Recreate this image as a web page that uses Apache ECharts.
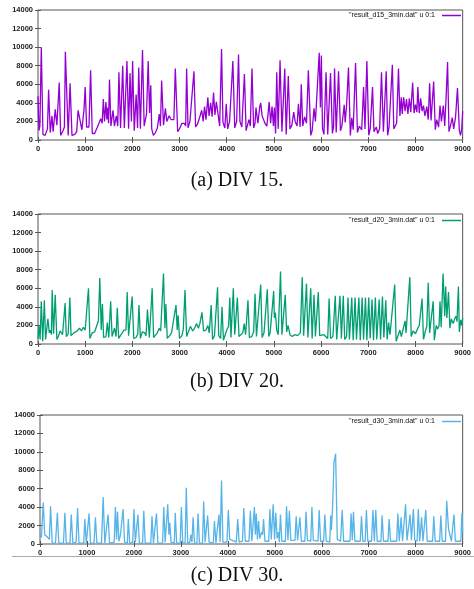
<!DOCTYPE html>
<html>
<head>
<meta charset="utf-8">
<script src="https://cdn.jsdelivr.net/npm/echarts@6/dist/echarts.min.js"></script>
<style>
html,body{margin:0;padding:0;background:#fff;}
#chart{width:474px;height:589px;}
</style>
</head>
<body>
<div id="chart"></div>
<script>
// ---- Data (x = sample index, y = value) ----
const xTicks = ['0','1000','2000','3000','4000','5000','6000','7000','8000','9000'];
const yTicks = ['0','2000','4000','6000','8000','10000','12000','14000'];
const seriesNames = ['"result_d15_3min.dat" u 0:1', '"result_d20_3min.dat" u 0:1', '"result_d30_3min.dat" u 0:1'];
const captions = ['(a) DIV 15.', '(b) DIV 20.', '(c) DIV 30.'];

const div15 = [[0,4700],[20,1000],[40,1500],[70,10000],[105,600],[150,500],[200,1200],[225,5400],[260,800],[295,2600],[320,900],[365,3300],[400,1600],[450,6200],[480,500],[530,1000],[560,1400],[580,9500],[640,500],[680,6100],[720,500],[780,600],[820,900],[850,3200],[880,2400],[900,2500],[930,1100],[975,3300],[1000,5700],[1030,1400],[1080,1400],[1115,7500],[1150,700],[1200,700],[1250,1300],[1290,1500],[1330,2300],[1360,1800],[1385,4400],[1410,2000],[1440,4100],[1460,2200],[1480,3500],[1495,1800],[1515,6500],[1545,1500],[1590,3200],[1620,1500],[1660,2600],[1690,1500],[1715,7300],[1750,1300],[1795,8000],[1830,1300],[1885,8500],[1920,1200],[1950,7200],[1980,2000],[2005,8500],[2040,1000],[2080,4900],[2110,1300],[2135,7800],[2170,1200],[2215,9700],[2250,1500],[2300,2800],[2335,8500],[2365,2900],[2390,5900],[2410,1200],[2445,500],[2490,800],[2530,1300],[2570,2800],[2595,1500],[2620,6400],[2660,1600],[2700,3400],[2730,2000],[2780,2600],[2820,2200],[2860,2400],[2880,2200],[2910,7700],[2960,900],[3000,1200],[3050,1800],[3100,1800],[3130,1500],[3150,7700],[3180,1300],[3220,2000],[3260,1900],[3305,7400],[3340,1400],[3380,1700],[3430,2500],[3470,3200],[3500,2000],[3530,3600],[3560,2200],[3600,4600],[3625,2600],[3660,4000],[3690,2500],[3720,5100],[3750,2700],[3780,4100],[3810,3000],[3850,1500],[3890,9800],[3920,1900],[3960,1300],[3990,3900],[4020,1200],[4060,2000],[4130,8500],[4170,1300],[4210,2000],[4250,9200],[4280,2000],[4320,1400],[4375,7100],[4410,1000],[4440,900],[4470,2200],[4500,1500],[4535,7700],[4570,1300],[4600,1800],[4620,3500],[4660,1800],[4700,3600],[4720,4000],[4750,2600],[4780,2800],[4810,1800],[4850,1500],[4880,1700],[4900,4100],[4930,1800],[4960,3600],[4990,1500],[5010,3500],[5035,700],[5060,7300],[5090,1200],[5130,8600],[5170,900],[5230,7700],[5260,600],[5305,6900],[5340,1200],[5380,1600],[5420,3000],[5450,2000],[5490,1500],[5520,3900],[5555,1400],[5580,6000],[5610,1500],[5650,2500],[5690,1800],[5730,7500],[5780,500],[5810,1000],[5850,3400],[5880,2000],[5960,9400],[5985,3500],[6005,9100],[6030,1200],[6060,600],[6105,7300],[6140,600],[6200,7200],[6240,700],[6265,1500],[6285,7700],[6320,800],[6370,7400],[6410,1000],[6440,1500],[6490,3800],[6510,1900],[6540,3700],[6580,7800],[6620,500],[6650,2400],[6680,1100],[6730,8300],[6770,800],[6810,1500],[6860,1100],[6900,5700],[6930,1200],[6970,8500],[7010,500],[7040,1200],[7090,5700],[7120,900],[7170,1400],[7200,700],[7240,1200],[7280,7300],[7320,900],[7350,1000],[7380,7400],[7410,500],[7440,1400],[7470,1600],[7510,8100],[7540,1200],[7580,1000],[7600,1800],[7640,7700],[7670,2600],[7700,4600],[7720,2800],[7750,4600],[7780,3100],[7810,4400],[7840,2800],[7870,4500],[7900,3000],[7940,6200],[7970,2900],[8000,3800],[8030,3000],[8050,5700],[8080,2900],[8110,4500],[8140,3100],[8170,3700],[8200,2600],[8240,3600],[8270,2200],[8300,6100],[8330,2100],[8385,6300],[8420,1100],[8450,2200],[8490,1400],[8520,3700],[8550,2000],[8590,3700],[8620,1500],[8650,4700],[8680,8400],[8710,900],[8740,1500],[8780,2400],[8810,1200],[8850,2500],[8890,5600],[8930,1000],[8955,500],[8980,1200],[9000,3100]];

const div20 = [[0,600],[20,2000],[45,500],[70,4600],[100,300],[135,4700],[160,500],[210,2700],[240,1200],[260,1500],[285,1000],[300,5800],[330,1100],[365,5300],[400,500],[430,800],[470,1400],[520,1000],[555,900],[575,4400],[600,800],[640,1100],[675,5000],[700,900],[760,1200],[830,1400],[880,1700],[920,1400],[960,1800],[1000,1500],[1040,1600],[1070,6000],[1100,600],[1150,1200],[1200,1300],[1240,1500],[1280,2500],[1310,7100],[1340,1500],[1365,4300],[1390,700],[1440,800],[1470,2300],[1500,700],[1540,4600],[1570,800],[1620,1700],[1655,800],[1680,3900],[1710,600],[1760,1000],[1820,1500],[1865,1500],[1890,5600],[1920,900],[1960,1000],[1995,5100],[2030,600],[2080,700],[2115,1100],[2140,4200],[2170,600],[2210,1300],[2260,1200],[2290,900],[2320,3700],[2360,700],[2420,6000],[2450,700],[2490,800],[2530,1200],[2570,1700],[2600,1400],[2660,7600],[2690,1700],[2710,4300],[2740,600],[2790,900],[2830,1200],[2860,1100],[2925,4200],[2950,1500],[2970,3100],[3000,600],[3050,900],[3080,1600],[3115,5800],[3150,800],[3190,1000],[3230,1900],[3280,1400],[3320,1700],[3360,2200],[3400,1700],[3430,2200],[3475,3400],[3510,1400],[3560,1500],[3600,2000],[3630,1200],[3670,4200],[3700,500],[3740,900],[3805,6100],[3830,900],[3870,600],[3900,4000],[3930,400],[3970,600],[4000,1500],[4040,1900],[4065,5000],[4090,700],[4140,6000],[4170,1000],[4225,5000],[4260,800],[4300,600],[4340,1200],[4370,2200],[4400,1000],[4450,4700],[4480,700],[4530,800],[4570,1300],[4600,5400],[4630,800],[4660,900],[4720,6400],[4750,700],[4790,1200],[4860,5900],[4890,800],[4920,1200],[4960,1200],[4995,5700],[5010,2800],[5030,3400],[5060,1500],[5090,1000],[5140,7800],[5170,1000],[5210,900],[5240,5300],[5270,1300],[5300,2000],[5340,1000],[5390,800],[5440,1000],[5500,900],[5560,1200],[5600,7200],[5630,900],[5690,6500],[5720,700],[5780,6000],[5810,600],[5850,5300],[5880,800],[5910,1000],[5940,5600],[5970,900],[6010,800],[6060,1000],[6100,1000],[6140,600],[6170,4900],[6200,600],[6250,800],[6300,5200],[6330,500],[6400,5200],[6430,600],[6470,5200],[6500,500],[6540,800],[6570,5000],[6600,500],[6650,5000],[6680,400],[6720,5000],[6750,500],[6800,5000],[6830,400],[6870,5000],[6900,500],[6940,5000],[6970,400],[7010,5000],[7040,600],[7080,4800],[7110,400],[7150,5000],[7180,500],[7230,4800],[7260,500],[7300,5100],[7330,700],[7370,4700],[7400,500],[7430,2300],[7460,1000],[7500,800],[7560,6400],[7590,300],[7630,500],[7670,1500],[7700,800],[7780,2500],[7800,1200],[7880,7200],[7910,800],[7950,1400],[8000,1100],[8040,1600],[8080,2000],[8140,4900],[8170,500],[8210,1400],[8240,1900],[8270,6600],[8300,1200],[8340,1000],[8375,4600],[8400,400],[8440,2000],[8470,1600],[8500,2000],[8520,4600],[8545,1800],[8585,7600],[8620,3000],[8640,6200],[8665,2800],[8700,5600],[8730,1700],[8760,2700],[8800,2200],[8830,2700],[8860,3000],[8880,2400],[8910,6200],[8930,1300],[8960,2600],[8980,2000],[9000,2800]];

const div30 = [[0,1000],[30,700],[50,800],[70,4500],[100,1000],[150,800],[200,500],[225,4100],[260,100],[330,100],[370,3400],[400,100],[500,100],[530,3400],[560,100],[640,100],[665,3200],[700,100],[770,200],[800,3900],[830,100],[930,100],[955,2700],[985,100],[1020,100],[1045,3300],[1075,100],[1150,100],[1180,2900],[1210,100],[1310,100],[1345,5100],[1380,100],[1420,100],[1450,3200],[1480,100],[1580,200],[1605,4000],[1630,500],[1650,3500],[1680,300],[1710,900],[1740,700],[1770,3800],[1800,200],[1860,100],[1880,2700],[1910,100],[1975,200],[2000,3800],[2030,200],[2060,100],[2085,3200],[2115,100],[2185,100],[2210,3600],[2240,100],[2360,100],[2385,3000],[2415,100],[2455,100],[2480,3300],[2510,100],[2610,100],[2635,4000],[2665,200],[2700,200],[2720,4300],[2745,1000],[2765,2300],[2790,200],[2860,100],[2880,3400],[2910,100],[2985,100],[3010,4000],[3040,100],[3090,100],[3115,6100],[3145,100],[3190,200],[3210,1000],[3235,200],[3260,2900],[3290,100],[3340,100],[3365,3300],[3395,100],[3460,100],[3485,4600],[3515,200],[3545,100],[3570,3100],[3600,200],[3690,100],[3715,2500],[3745,100],[3785,100],[3810,3200],[3835,200],[3865,6900],[3895,200],[3980,200],[4010,3700],[4040,500],[4100,400],[4180,200],[4210,2700],[4240,200],[4310,300],[4340,3900],[4370,300],[4450,300],[4480,3600],[4510,300],[4540,300],[4565,4000],[4585,1000],[4605,3300],[4630,500],[4655,2500],[4680,600],[4720,1300],[4740,1000],[4760,2700],[4790,300],[4870,300],[4895,3800],[4925,500],[4945,400],[4965,4300],[4995,500],[5020,3400],[5050,600],[5080,1300],[5095,200],[5120,3200],[5150,300],[5225,300],[5250,4100],[5280,400],[5310,3600],[5340,400],[5430,400],[5455,3000],[5485,400],[5510,300],[5535,2900],[5565,300],[5640,300],[5665,3500],[5695,400],[5765,300],[5790,4000],[5820,400],[5920,300],[5945,3700],[5975,300],[6040,300],[6065,3200],[6095,300],[6170,200],[6190,3100],[6205,1500],[6230,4000],[6260,8900],[6275,9200],[6295,9800],[6330,500],[6400,300],[6435,3700],[6465,300],[6600,300],[6625,3300],[6650,400],[6675,3500],[6705,300],[6820,300],[6845,3000],[6875,300],[6925,300],[6950,3700],[6980,300],[7060,300],[7090,3700],[7120,300],[7150,3700],[7180,300],[7260,300],[7285,3100],[7315,300],[7410,300],[7435,2700],[7465,300],[7595,300],[7620,3300],[7650,300],[7665,300],[7690,2900],[7720,300],[7760,300],[7785,4300],[7815,400],[7855,300],[7880,3200],[7910,400],[7925,300],[7950,3800],[7980,400],[8030,300],[8055,3800],[8085,300],[8100,300],[8125,2900],[8155,300],[8190,300],[8215,3700],[8245,300],[8360,300],[8385,3000],[8415,300],[8510,300],[8535,3100],[8565,300],[8635,300],[8660,4700],[8700,1600],[8730,1400],[8760,300],[8790,300],[8815,3200],[8845,300],[8900,300],[8960,300],[8985,3400],[9000,1200]];

const colors = ['#9400d3', '#009e73', '#56b4e9'];
const allData = [div15, div20, div30];

// ---- Layout ----
const grids = [
  {left: 38, right: 7, top: 10, height: 130},
  {left: 38, right: 9, top: 214, height: 130},
  {left: 40, right: 6, top: 415, height: 129}
];
const legendTops = [12, 217, 418];
const captionTops = [171, 372, 566];

const frameColor = '#555';
const labelFont = {fontFamily: 'Liberation Sans, Arial, sans-serif', fontSize: 7.5, fontWeight: 'bold', color: '#222'};

const xAxes = [], yAxes = [], series = [], legends = [], graphics = [];
grids.forEach((g, i) => {
  g.show = true; g.borderColor = frameColor; g.borderWidth = 1; g.backgroundColor = '#fff';
  const common = {min: 0, max: 9000, interval: 1000, type: 'value', gridIndex: i,
    axisLine: {show: false}, splitLine: {show: false},
    axisTick: {show: true, inside: true, length: 3, lineStyle: {color: frameColor}}};
  xAxes.push(Object.assign({}, common, {position: 'bottom',
    axisLabel: Object.assign({show: true, margin: 5, formatter: v => xTicks[Math.round(v/1000)] || ''}, labelFont)}));
  xAxes.push(Object.assign({}, common, {position: 'top', axisLabel: {show: false}}));
  const ycommon = {min: 0, max: 14000, interval: 2000, type: 'value', gridIndex: i,
    axisLine: {show: false}, splitLine: {show: false},
    axisTick: {show: true, inside: true, length: 3, lineStyle: {color: frameColor}}};
  yAxes.push(Object.assign({}, ycommon, {position: 'left',
    axisLabel: Object.assign({show: true, margin: 5, formatter: v => yTicks[Math.round(v/2000)] || ''}, labelFont)}));
  yAxes.push(Object.assign({}, ycommon, {position: 'right', axisLabel: {show: false}}));
  series.push({
    name: seriesNames[i], type: 'line', xAxisIndex: i*2, yAxisIndex: i*2,
    data: allData[i], showSymbol: false, symbol: 'none', smooth: false,
    lineStyle: {color: colors[i], width: 1.3}, itemStyle: {color: colors[i]},
    animation: false
  });
  legends.push({
    data: [{name: seriesNames[i], icon: 'rect'}], right: 13, top: legendTops[i],
    align: 'right', itemWidth: 19, itemHeight: 1.5, itemGap: 4, selectedMode: false,
    textStyle: {fontFamily: 'Liberation Sans, Arial, sans-serif', fontSize: 7, color: '#111', padding: [0, 2, 0, 0]},
    padding: 0
  });
  graphics.push({
    type: 'text', left: 'center', top: captionTops[i],
    style: {text: captions[i], font: '20px "Liberation Serif", "Times New Roman", serif', fill: '#111'}
  });
});
graphics.push({type: 'line', shape: {x1: 12, y1: 556.5, x2: 474, y2: 556.5}, style: {stroke: '#aaa', lineWidth: 1}});

const chart = echarts.init(document.getElementById('chart'), null, {renderer: 'canvas'});
chart.setOption({
  backgroundColor: '#fff',
  animation: false,
  grid: grids,
  xAxis: xAxes,
  yAxis: yAxes,
  legend: legends,
  series: series,
  graphic: graphics
});
</script>
</body>
</html>
